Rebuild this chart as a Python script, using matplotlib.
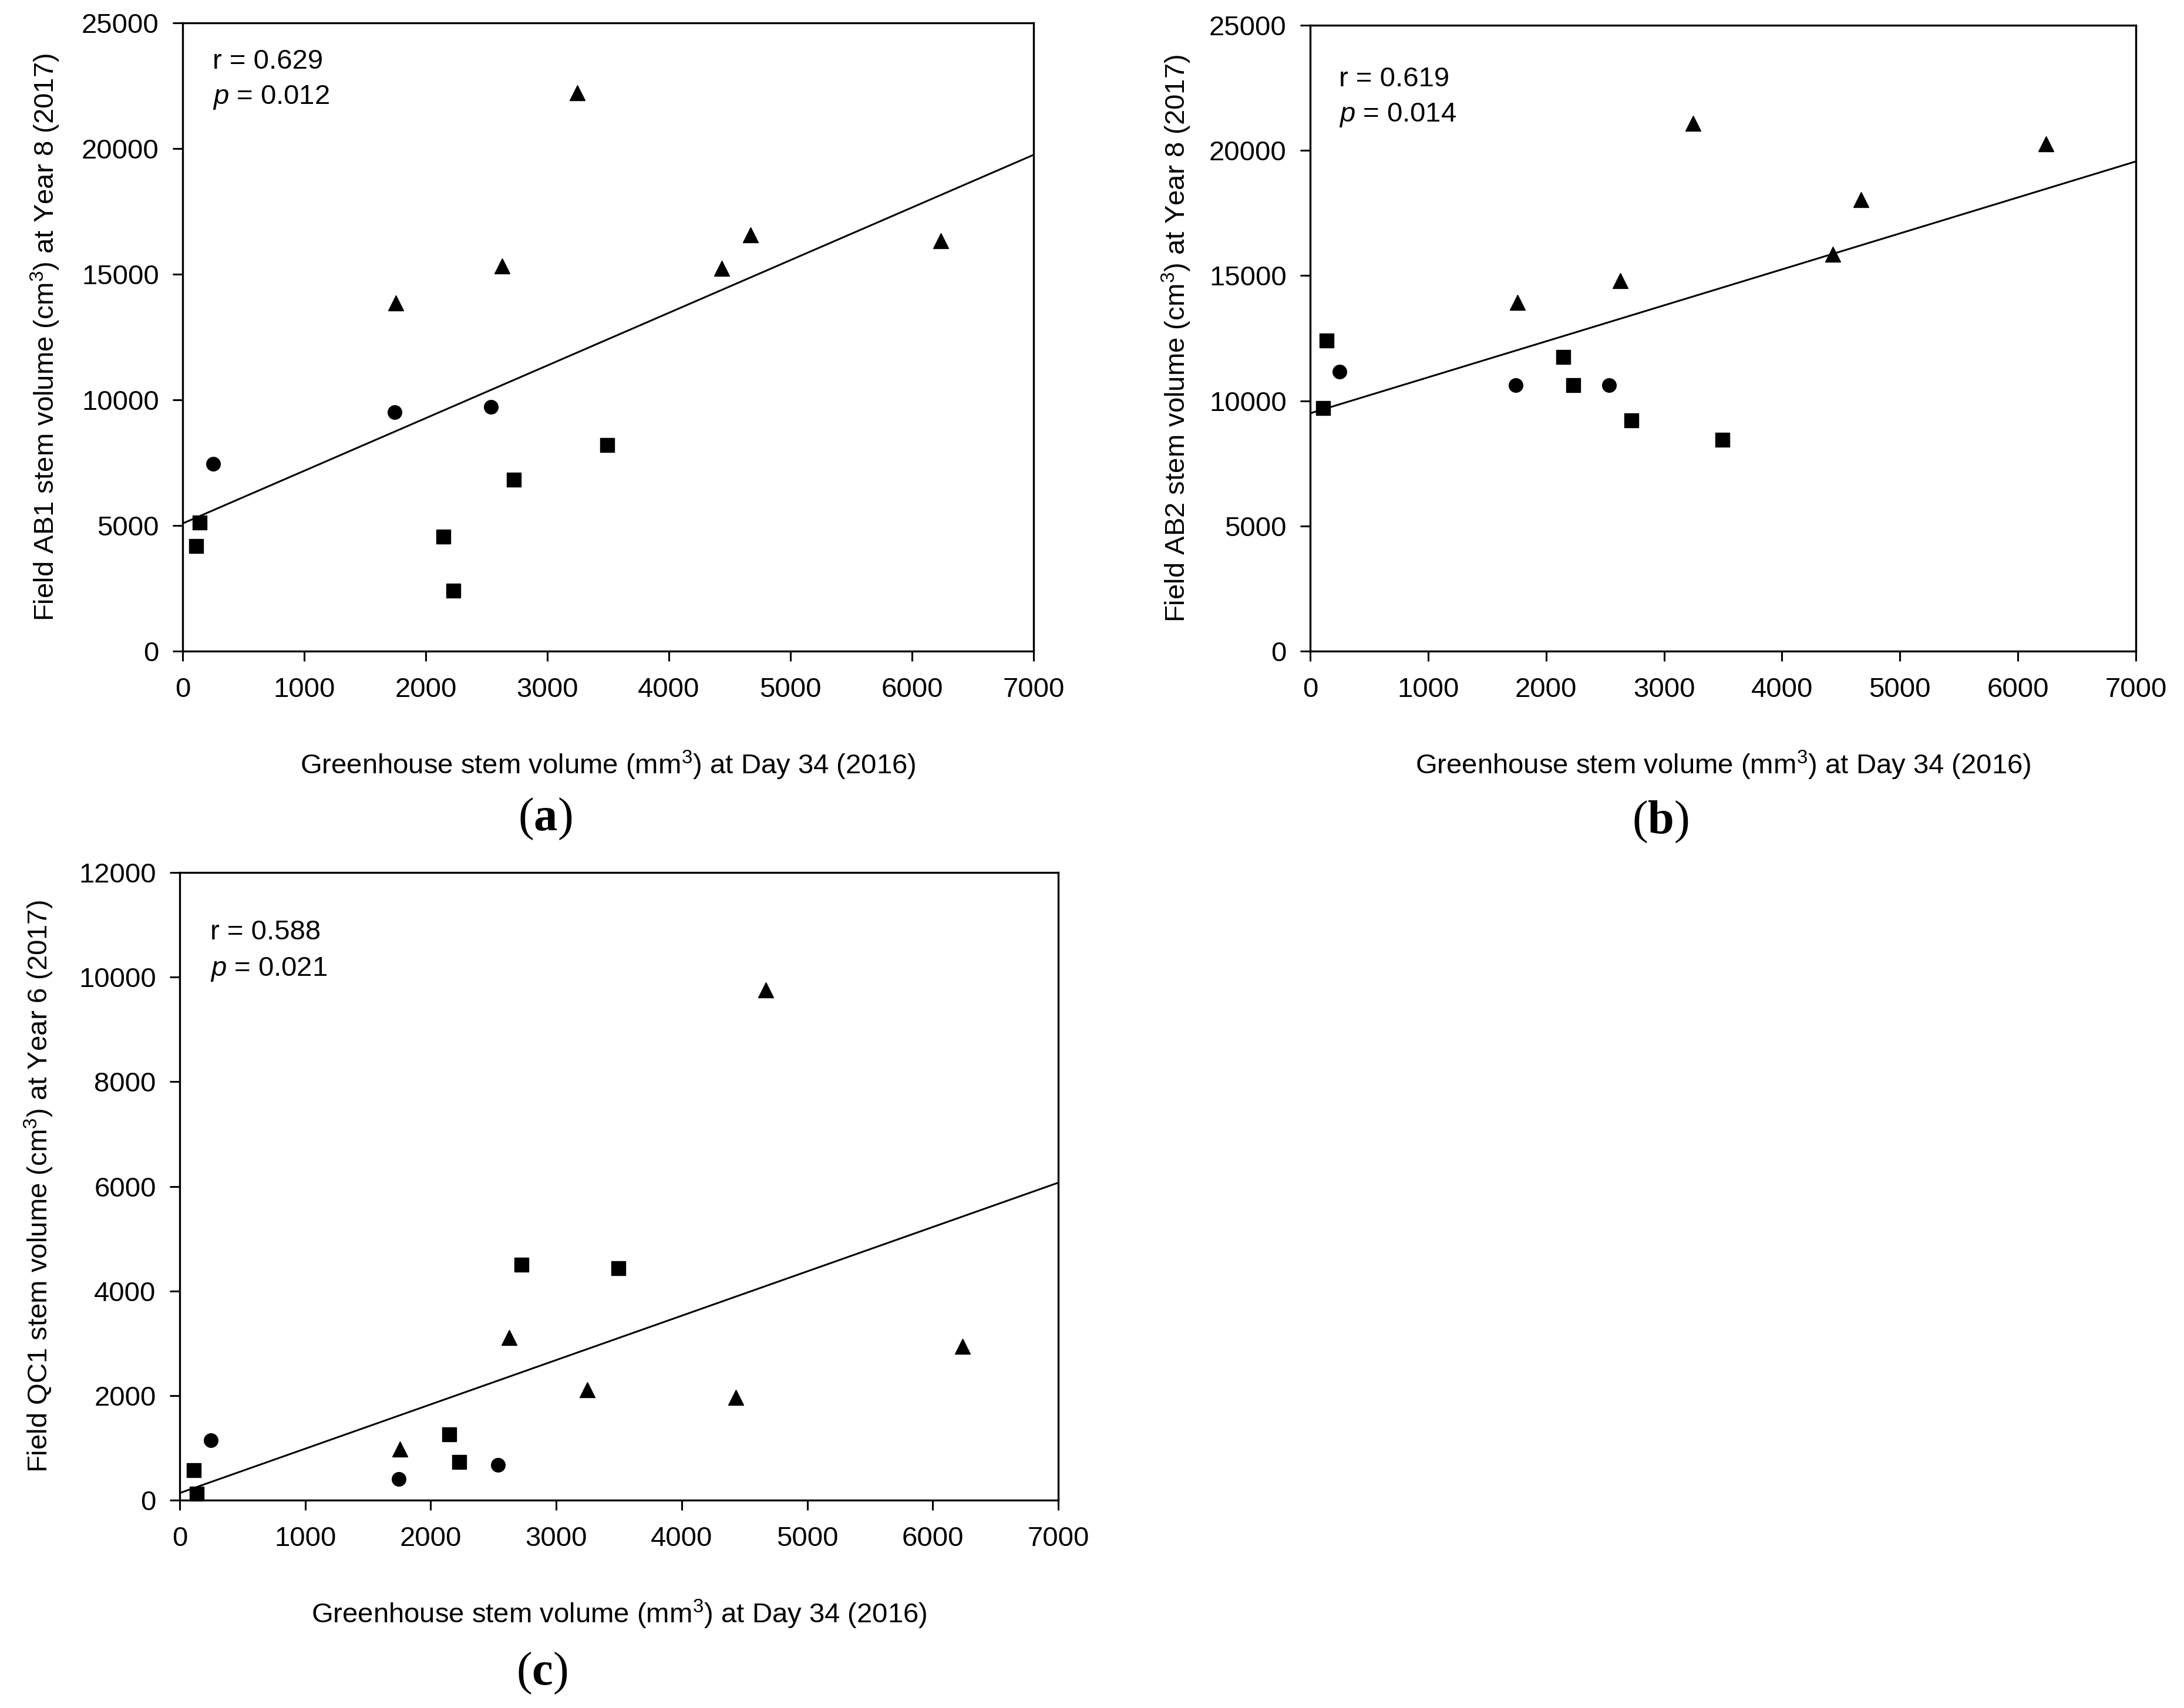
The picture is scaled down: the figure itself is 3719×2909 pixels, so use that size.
import numpy as np
import matplotlib.pyplot as plt

plt.rcParams['font.family'] = ['Liberation Sans', 'DejaVu Sans']
plt.rcParams['font.size'] = 34
plt.rcParams['mathtext.fontset'] = 'custom'
plt.rcParams['mathtext.rm'] = 'Liberation Sans'
plt.rcParams['mathtext.it'] = 'Liberation Sans:italic'
plt.rcParams['mathtext.bf'] = 'Liberation Serif:bold'
plt.rcParams['mathtext.default'] = 'regular'

# greenhouse stem volume (mm3) at day 34, by marker group
gh_tri = [1755, 2627, 3246, 4433, 4670, 6236]
gh_cir = [250, 1744, 2535]
gh_sq = [110, 138, 2146, 2228, 2725, 3495]

# field AB1, year 8
ab1_tri = [13860, 15330, 22210, 15225, 16566, 16328]
ab1_cir = [7461, 9516, 9710]
ab1_sq = [4174, 5125, 4563, 2400, 6812, 8196]

# field AB2, year 8
ab2_tri = [13942, 14809, 21076, 15850, 18040, 20273]
ab2_cir = [11166, 10624, 10624]
ab2_sq = [9714, 12402, 11752, 10624, 9215, 8435]

# field QC1, year 6
qc1_tri = [980, 3107, 2106, 1960, 9750, 2940]
qc1_cir = [1147, 407, 678]
qc1_sq = [573, 125, 1262, 730, 4505, 4432]

# regression lines (read at x=0 and x=7000)
line_x = [0, 7000]
ab1_fit = [5080, 19750]
ab2_fit = [9500, 19560]
qc1_fit = [136, 6069]

xlab = 'Greenhouse stem volume (mm$^{3}$) at Day 34 (2016)'

W, H = 3719, 2909
fig = plt.figure(figsize=(W / 100, H / 100), dpi=100)


def px_axes(left, top, right, bottom):
    return fig.add_axes([left / W, 1 - bottom / H, (right - left) / W, (bottom - top) / H])


def panel(ax, tri, cir, sq, fit, ymax, ystep, r, p, ty, ylab):
    ax.plot(gh_tri, tri, ls='none', marker='^', ms=19, color='black', clip_on=False)
    ax.plot(gh_cir, cir, ls='none', marker='o', ms=17, color='black', clip_on=False)
    ax.plot(gh_sq, sq, ls='none', marker='s', ms=17, color='black', clip_on=False)
    ax.plot(line_x, fit, color='black', lw=2.2)
    ax.set_xlim(0, 7000)
    ax.set_ylim(0, ymax)
    ax.set_xticks(np.arange(0, 7001, 1000))
    ax.set_yticks(np.arange(0, ymax + 1, ystep))
    ax.tick_params(direction='out', length=12, width=2.2, top=False, right=False)
    ax.tick_params(axis='x', pad=20)
    ax.tick_params(axis='y', pad=17)
    for s in ax.spines.values():
        s.set_linewidth(2.4)
    ax.text(0.035, ty[0], f'r = {r}', transform=ax.transAxes, va='baseline')
    ax.text(0.035, ty[1], r'$\mathit{p}$' + f' = {p}', transform=ax.transAxes, va='baseline')
    ax.set_xlabel(xlab)
    ax.xaxis.label.set_va('baseline')
    ax.xaxis.set_label_coords(0.5, -0.196)
    ax.set_ylabel(ylab)
    ax.yaxis.set_label_coords(-0.142, 0.5)


ax1 = px_axes(311, 39, 1760, 1109)
panel(ax1, ab1_tri, ab1_cir, ab1_sq, ab1_fit, 25000, 5000, '0.629', '0.012',
      (0.927, 0.871), 'Field AB1 stem volume (cm$^{3}$) at Year 8 (2017)')

ax2 = px_axes(2231, 43, 3637, 1109)
panel(ax2, ab2_tri, ab2_cir, ab2_sq, ab2_fit, 25000, 5000, '0.619', '0.014',
      (0.902, 0.846), 'Field AB2 stem volume (cm$^{3}$) at Year 8 (2017)')

ax3 = px_axes(306, 1486, 1802, 2555)
panel(ax3, qc1_tri, qc1_cir, qc1_sq, qc1_fit, 12000, 2000, '0.588', '0.021',
      (0.893, 0.835), 'Field QC1 stem volume (cm$^{3}$) at Year 6 (2017)')

# panel letters
for lx, ly, letter in [(928, 1395, 'a'), (2827, 1400, 'b'), (923, 2850, 'c')]:
    fig.text(lx / W, 1 - ly / H, '($\\mathbf{' + letter + '}$)', family='Liberation Serif',
             fontsize=58, ha='center', va='center')

fig.savefig('out.png', dpi=100)
